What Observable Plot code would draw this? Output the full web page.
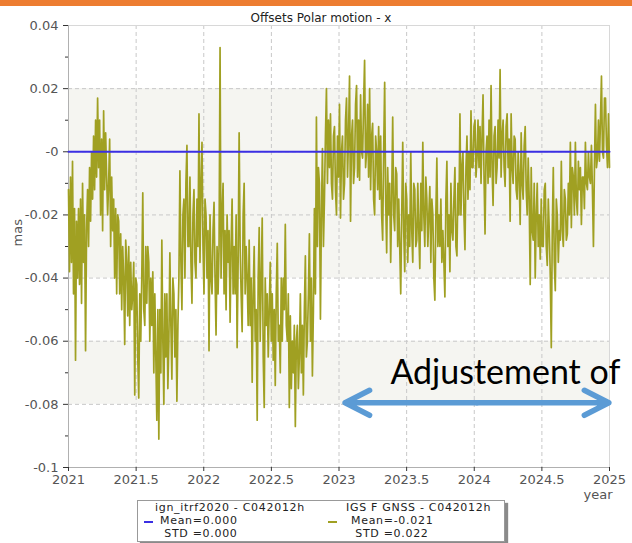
<!DOCTYPE html>
<html>
<head>
<meta charset="utf-8">
<script src="https://cdn.jsdelivr.net/npm/d3@7"></script>
<script src="https://cdn.jsdelivr.net/npm/@observablehq/plot@0.6"></script>
<style>
  html, body { margin: 0; padding: 0; background: #fff; }
  #wrap { position: relative; width: 632px; height: 543px; overflow: hidden; font-family: "DejaVu Sans", sans-serif; }
  #topbar { position: absolute; left: 0; top: 0; width: 632px; height: 6px; background: #ed7d31; }
  #chart { position: absolute; left: 0; top: 6px; }
  #legend { position: absolute; left: 137px; top: 500px; width: 366px; height: 40px; background: #fff;
            border: 1px solid #999; box-shadow: 3px 3px 1px #8a8a8a; font-size: 11px; letter-spacing: 0.7px; color: #222; }
  #legend .t { position: absolute; white-space: pre; line-height: 12.8px; }
  #legend .sw { position: absolute; height: 2px; width: 9px; }
</style>
</head>
<body>
<div id="wrap">
  <div id="topbar"></div>
  <div id="chart"></div>
  <div id="legend"></div>
</div>
<script>
// ---- data ----
const startYear = 2021;
const endYear = 2025;
const xTicks = [2021, 2021.5, 2022, 2022.5, 2023, 2023.5, 2024, 2024.5, 2025];
const yTicks = [0.04, 0.02, 0, -0.02, -0.04, -0.06, -0.08, -0.1];
const yTickLabels = ["0.04", "0.02", "-0", "-0.02", "-0.04", "-0.06", "-0.08", "-0.1"];
const yMinorTicks = [0.03, 0.01, -0.01, -0.03, -0.05, -0.07, -0.09];
const bandTop = [0.02, -0.06];
const bandBottom = [-0.04, -0.08];

const seriesNames = ["ign_itrf2020 - C042012h", "IGS F GNSS - C042012h"];
const seriesMeans = ["0.000", "-0.021"];
const seriesStd = ["0.000", "0.022"];
const seriesColors = ["#3b2fe3", "#a0a022"];

// reference series (ign_itrf2020): flat at zero
const refYears = [2021, 2025];
const refValues = [0, 0];

// IGS F GNSS offsets (mas), evenly spaced in time
const offsets = [
  -0.012, -0.038, -0.008, -0.035, -0.003, -0.045, -0.018, -0.066, -0.022, -0.040,
  -0.018, -0.042, -0.015, -0.048, -0.010, -0.035, -0.020, -0.063, -0.025, -0.012,
  -0.030, -0.005, -0.022, 0.000, -0.015, 0.005, -0.012, 0.010, -0.008, 0.017,
  -0.005, 0.010, -0.020, 0.004, -0.025, 0.013, -0.012, 0.006, -0.008, -0.020,
  -0.010, 0.004, -0.030, -0.008, -0.025, -0.015, -0.040, -0.018, -0.045, -0.020,
  -0.022, -0.045, -0.026, -0.050, -0.030, -0.040, -0.061, -0.028, -0.035, -0.052,
  -0.030, -0.055, -0.035, -0.050, -0.045, -0.035, -0.077, -0.040, -0.042, -0.065,
  -0.078, -0.045, -0.060, -0.040, -0.013, -0.050, -0.055, -0.030, -0.048, -0.030,
  -0.035, -0.060, -0.040, -0.055, -0.038, -0.070, -0.045, -0.065, -0.085, -0.050,
  -0.091, -0.050, -0.070, -0.028, -0.060, -0.080, -0.045, -0.065, -0.045, -0.075,
  -0.060, -0.032, -0.055, -0.072, -0.040, -0.045, -0.065, -0.050, -0.079, -0.055,
  -0.040, -0.006, -0.035, -0.050, -0.020, -0.015, -0.040, -0.010, 0.002, -0.030,
  -0.030, -0.008, -0.035, -0.048, -0.020, -0.012, -0.035, -0.040, -0.015, -0.030,
  0.012, -0.035, -0.010, 0.003, -0.030, -0.045, -0.015, -0.020, -0.040, -0.025,
  -0.063, -0.020, -0.040, -0.045, -0.025, -0.016, -0.040, -0.058, -0.030, -0.045,
  -0.030, 0.033, -0.040, -0.020, -0.010, -0.045, -0.025, -0.050, -0.020, -0.035,
  -0.025, -0.054, -0.030, -0.015, -0.045, -0.030, -0.045, -0.020, -0.062, -0.035,
  0.006, -0.030, -0.045, -0.057, -0.020, -0.010, -0.045, -0.030, -0.040, -0.055,
  -0.028, -0.055, -0.040, -0.073, -0.045, -0.030, -0.060, -0.050, -0.085, -0.040,
  -0.024, -0.060, -0.040, -0.021, -0.065, -0.081, -0.040, -0.055, -0.045, -0.065,
  -0.050, -0.035, -0.060, -0.045, -0.066, -0.050, -0.074, -0.045, -0.029, -0.060,
  -0.055, -0.070, -0.040, -0.060, -0.040, -0.050, -0.023, -0.055, -0.060, -0.045,
  -0.081, -0.052, -0.075, -0.060, -0.070, -0.055, -0.087, -0.060, -0.055, -0.075,
  -0.065, -0.045, -0.070, -0.055, -0.077, -0.050, -0.033, -0.065, -0.060, -0.045,
  -0.026, -0.060, -0.040, -0.071, -0.050, -0.018, -0.045, 0.011, -0.030, -0.005,
  -0.010, -0.053, -0.020, 0.001, -0.030, -0.015, 0.005, 0.020, -0.010, 0.010,
  -0.005, 0.012, -0.010, -0.015, 0.005, 0.008, -0.012, -0.020, 0.005, -0.008,
  0.015, -0.021, 0.000, 0.005, -0.015, -0.010, 0.010, 0.017, -0.008, 0.005,
  0.024, -0.022, 0.005, 0.010, -0.010, -0.005, 0.015, 0.021, -0.008, 0.010,
  -0.009, 0.018, 0.000, -0.002, 0.015, 0.029, -0.005, 0.000, 0.015, -0.008,
  0.020, -0.012, 0.005, 0.009, -0.015, -0.020, 0.005, 0.000, -0.012, 0.008,
  -0.015, 0.005, -0.020, -0.028, 0.000, 0.022, -0.015, -0.032, -0.005, -0.020,
  -0.010, -0.035, -0.015, 0.011, -0.020, -0.025, -0.005, -0.007, -0.030, -0.015,
  -0.030, -0.045, -0.020, 0.003, -0.025, -0.038, -0.010, -0.015, -0.035, -0.020,
  -0.030, 0.000, -0.025, -0.035, -0.010, -0.012, -0.030, -0.028, -0.010, -0.025,
  -0.037, -0.010, -0.025, 0.003, -0.020, -0.030, -0.008, -0.015, -0.030, -0.020,
  -0.011, -0.035, -0.015, -0.020, -0.040, -0.047, -0.020, -0.002, -0.030, -0.020,
  -0.030, -0.015, -0.035, -0.025, -0.035, -0.046, -0.015, -0.003, -0.030, -0.020,
  -0.038, -0.010, -0.025, -0.028, -0.015, -0.005, -0.030, -0.033, -0.010, -0.020,
  0.012, -0.020, -0.005, 0.000, -0.020, -0.031, -0.005, 0.005, -0.015, 0.000,
  -0.012, 0.013, -0.005, -0.005, 0.008, 0.010, -0.008, -0.002, 0.010, -0.005,
  0.008, -0.010, 0.005, 0.018, -0.008, -0.026, 0.000, 0.005, -0.010, 0.010,
  -0.008, 0.021, -0.005, -0.017, 0.005, 0.008, -0.010, -0.005, 0.010, -0.002,
  0.026, -0.008, 0.005, 0.010, -0.005, -0.011, 0.008, 0.012, -0.005, 0.004,
  -0.022, 0.012, -0.005, -0.010, 0.005, 0.004, -0.012, -0.015, 0.000, -0.008,
  -0.023, 0.006, -0.010, -0.015, 0.002, 0.008, -0.012, -0.020, -0.002, -0.015,
  -0.042, -0.005, -0.025, -0.028, -0.010, -0.040, -0.020, -0.010, -0.030, -0.020,
  -0.034, -0.015, -0.030, -0.030, -0.012, -0.010, -0.030, -0.036, -0.015, -0.025,
  -0.039, -0.062, -0.025, -0.005, -0.035, -0.044, -0.015, -0.020, -0.035, -0.025,
  -0.028, -0.003, -0.025, -0.030, -0.012, -0.015, -0.028, -0.026, -0.010, -0.020,
  0.003, -0.024, -0.005, -0.008, -0.020, 0.003, -0.015, -0.020, -0.003, -0.012,
  -0.005, -0.023, -0.008, -0.008, -0.018, 0.003, -0.010, -0.012, 0.000, -0.008,
  -0.010, 0.002, -0.012, -0.030, -0.005, 0.015, -0.005, -0.002, 0.010, -0.003,
  0.010, 0.024, 0.000, -0.002, 0.017, 0.017, 0.002, -0.005, 0.012, -0.005
];

// annotation
const annotText = "Adjustement of";
const annotX = 2023.38;
const annotY = -0.0735;
const arrowStart = 2023.045;
const arrowEnd = 2024.995;
const arrowY = -0.0795;

// ---- build ----
const n = offsets.length;
const gnss = offsets.map((v, i) => ({year: startYear + i * (endYear - startYear) / (n - 1), value: v}));
const ref = refYears.map((y, i) => ({year: y, value: refValues[i]}));
const bands = bandTop.map((t, i) => ({x1: startYear, x2: endYear, y1: t, y2: bandBottom[i]}));
const arrowMid = (arrowStart + arrowEnd) / 2;
const arrows = [
  {x1: arrowMid, x2: arrowEnd, y: arrowY},
  {x1: arrowMid, x2: arrowStart, y: arrowY}
];

const chart = Plot.plot({
  width: 632,
  height: 491,
  marginLeft: 68,
  marginRight: 23,
  marginTop: 19,
  marginBottom: 30,
  style: {fontFamily: "DejaVu Sans, sans-serif", fontSize: "13px", color: "#555", background: "transparent", overflow: "visible"},
  x: {domain: [startYear, endYear]},
  y: {domain: [-0.1, 0.04]},
  marks: [
    Plot.rect(bands, {x1: "x1", x2: "x2", y1: "y1", y2: "y2", fill: "#f5f5f1"}),
    Plot.gridY(yTicks.filter(d => d > -0.1 && d < 0.04), {stroke: "#c8c8c8", strokeOpacity: 1, strokeDasharray: "4,3"}),
    Plot.gridX(xTicks.filter(d => d > startYear && d < endYear), {stroke: "#c8c8c8", strokeOpacity: 1, strokeDasharray: "4,3"}),
    Plot.frame({stroke: "#d8d8d8"}),
    Plot.ruleX([startYear], {stroke: "#b0b0b0"}),
    Plot.ruleY([-0.1], {stroke: "#b0b0b0"}),
    Plot.axisY({ticks: yTicks, tickFormat: d => yTickLabels[yTicks.indexOf(d)], tickSize: 5, tickPadding: 5, stroke: "#333", fill: "#555", fontSize: 13, label: null}),
    Plot.axisY({ticks: yMinorTicks, tickFormat: () => "", tickSize: 3, stroke: "#333", label: null}),
    Plot.axisX({ticks: xTicks, tickFormat: d => String(d), tickSize: 4, tickPadding: 3, stroke: "#333", fill: "#555", fontSize: 13, label: null}),
    Plot.line(gnss, {x: "year", y: "value", stroke: seriesColors[1], strokeWidth: 1.7, strokeLinejoin: "round"}),
    Plot.line(ref, {x: "year", y: "value", stroke: seriesColors[0], strokeWidth: 2}),
    Plot.text(["Offsets Polar motion - x"], {frameAnchor: "top", dx: -18, dy: -12, fontSize: 12, fill: "#222"}),
    Plot.text(["mas"], {frameAnchor: "left", dx: -51, rotate: -90, fontSize: 13, fill: "#555"}),
    Plot.text(["year"], {frameAnchor: "bottom-right", textAnchor: "end", dx: 3, dy: 31, fontSize: 13, fill: "#555"}),
    Plot.text([annotText], {x: () => annotX, y: () => annotY, textAnchor: "start", lineAnchor: "bottom", fontFamily: "Lato, sans-serif", fontSize: 34, fill: "#000"}),
    Plot.arrow(arrows, {x1: "x1", x2: "x2", y1: "y", y2: "y", stroke: "#5b9bd5", strokeWidth: 5.5, headLength: 7.5, headAngle: 54, strokeLinecap: "round", strokeLinejoin: "round"})
  ]
});
document.getElementById("chart").appendChild(chart);

// legend
const legend = document.getElementById("legend");
const colLeft = [17, 208];
const swLeft = [6, 190];
seriesNames.forEach((name, i) => {
  const add = (txt, x, y) => {
    const d = document.createElement("div");
    d.className = "t"; d.textContent = txt;
    d.style.left = x + "px"; d.style.top = y + "px";
    legend.appendChild(d);
  };
  add(name, colLeft[i], 1);
  add("Mean=" + seriesMeans[i], colLeft[i] + 5, 14);
  add(" STD =" + seriesStd[i], colLeft[i] + 5, 27);
  const s = document.createElement("div");
  s.className = "sw"; s.style.left = swLeft[i] + "px"; s.style.top = "20px"; s.style.background = seriesColors[i];
  legend.appendChild(s);
});
</script>
</body>
</html>
